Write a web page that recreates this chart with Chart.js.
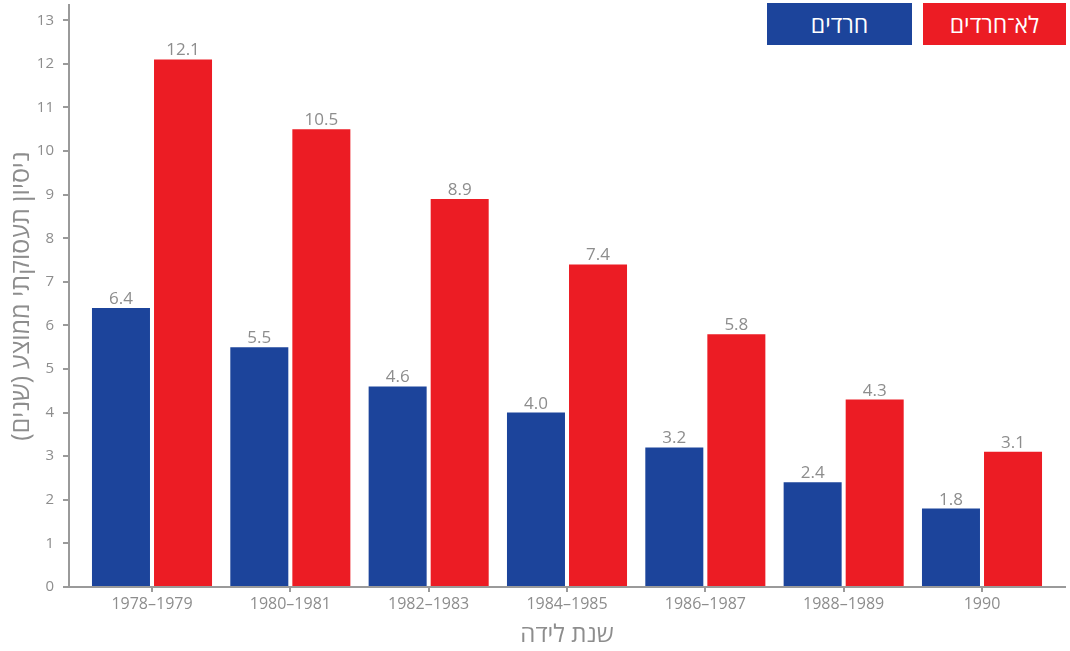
<!DOCTYPE html>
<html>
<head>
<meta charset="utf-8">
<script src="https://cdn.jsdelivr.net/npm/chart.js@4"></script>
<style>
  body { margin: 0; background: #fff; }
  #wrap { position: relative; width: 1070px; height: 651px; }
  #legend { position: absolute; top: 3px; right: 4px; display: flex; gap: 11px; direction: rtl; }
  .lg-item { height: 42px; line-height: 42px; color: #fff; font-family: "Open Sans", sans-serif; font-size: 23px; text-align: center; }
</style>
</head>
<body>
<div id="wrap">
  <canvas id="chart" width="1070" height="651"></canvas>
  <div id="legend"></div>
</div>
<script>
// birth year groups
const categories = ['1978–1979', '1980–1981', '1982–1983', '1984–1985', '1986–1987', '1988–1989', '1990'];
const haredim = [6.4, 5.5, 4.6, 4.0, 3.2, 2.4, 1.8];
const nonHaredim = [12.1, 10.5, 8.9, 7.4, 5.8, 4.3, 3.1];
const yTicks = [0, 1, 2, 3, 4, 5, 6, 7, 8, 9, 10, 11, 12, 13];

const colors = {
  blue: '#1c449b',
  red: '#ec1c24',
  text: '#8d8d8d',
  axis: '#9a9a9a'
};
const fontFamily = '"Open Sans", sans-serif';

const seriesDefs = [
  { label: 'חרדים', data: haredim, color: colors.blue, width: 145 },
  { label: 'לא־חרדים', data: nonHaredim, color: colors.red, width: 143 }
];

// value labels above bars
const valueLabels = {
  id: 'valueLabels',
  afterDatasetsDraw(chart) {
    const ctx = chart.ctx;
    ctx.save();
    ctx.font = '17px ' + fontFamily;
    ctx.fillStyle = colors.text;
    ctx.textAlign = 'center';
    ctx.textBaseline = 'alphabetic';
    chart.data.datasets.forEach((ds, di) => {
      chart.getDatasetMeta(di).data.forEach((bar, i) => {
        ctx.fillText(ds.data[i].y.toFixed(1), bar.x, bar.y - 4);
      });
    });
    ctx.restore();
  }
};

const chart = new Chart(document.getElementById('chart'), {
  type: 'bar',
  data: {
    datasets: seriesDefs.map(s => ({
      label: s.label,
      data: s.data.map((v, i) => ({ x: i, y: v })),
      backgroundColor: s.color,
      borderWidth: 0,
      categoryPercentage: 0.897,
      barPercentage: 0.935
    }))
  },
  options: {
    responsive: false,
    animation: false,
    layout: { padding: { top: 5, right: 5, left: 0, bottom: 0 } },
    plugins: {
      legend: { display: false },
      tooltip: { enabled: false }
    },
    scales: {
      x: {
        type: 'linear',
        min: -0.6,
        max: 6.6,
        offset: false,
        afterBuildTicks: scale => {
          scale.ticks = categories.map((c, i) => ({ value: i }));
        },
        afterFit: scale => {
          scale.height = 64;
          scale.paddingLeft = 0;
          scale.paddingRight = 0;
        },
        grid: { drawOnChartArea: false, offset: false, tickLength: 5, color: colors.axis, lineWidth: 2 },
        border: { color: colors.axis, width: 2 },
        ticks: {
          color: colors.text,
          font: { family: fontFamily, size: 16 },
          padding: 3,
          maxRotation: 0,
          callback: value => categories[value]
        },
        title: {
          display: true,
          text: 'שנת לידה',
          color: colors.text,
          font: { family: fontFamily, size: 24 },
          padding: { top: 0, bottom: 1 }
        }
      },
      y: {
        min: 0,
        max: 13.35,
        afterBuildTicks: scale => {
          scale.ticks = yTicks.map(v => ({ value: v }));
        },
        afterFit: scale => {
          scale.width = 69;
          scale.paddingTop = 0;
          scale.paddingBottom = 0;
        },
        grid: { drawOnChartArea: false, tickLength: 6, color: colors.axis, lineWidth: 2 },
        border: { color: colors.axis, width: 2 },
        ticks: {
          color: colors.text,
          font: { family: fontFamily, size: 15 },
          padding: 9
        },
        title: {
          display: true,
          text: 'ניסיון תעסוקתי ממוצע (שנים)',
          color: colors.text,
          font: { family: fontFamily, size: 25 },
          padding: { top: 7, bottom: 0 }
        }
      }
    }
  },
  plugins: [valueLabels]
});

// legend boxes, right to left
const legendEl = document.getElementById('legend');
seriesDefs.slice().reverse().forEach(s => {
  const d = document.createElement('div');
  d.className = 'lg-item';
  d.style.background = s.color;
  d.style.width = s.width + 'px';
  d.textContent = s.label;
  legendEl.appendChild(d);
});
</script>
</body>
</html>
